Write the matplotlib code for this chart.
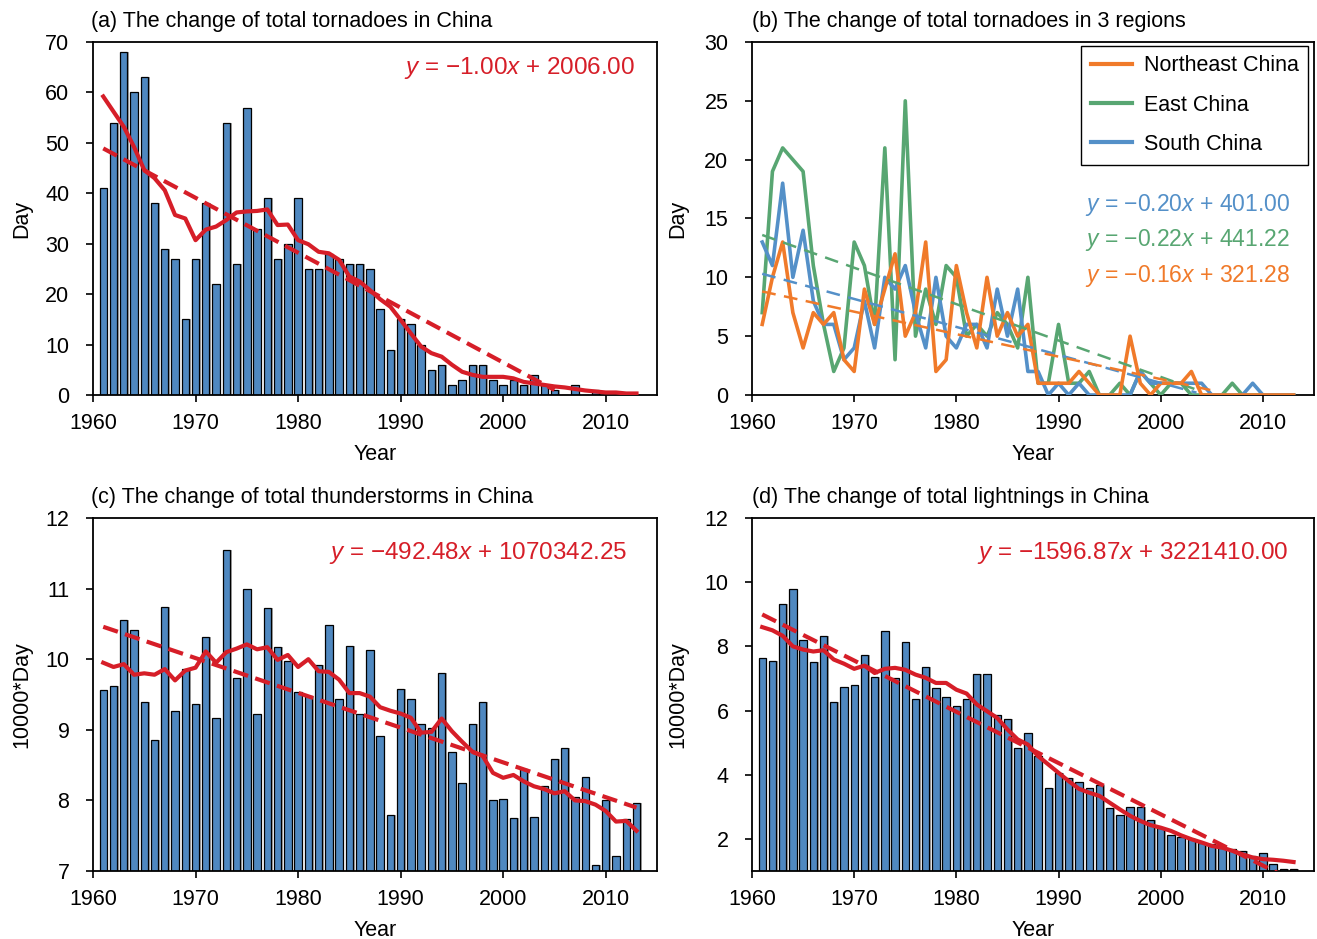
import numpy as np
import matplotlib
matplotlib.use("Agg")
import matplotlib.pyplot as plt

plt.rcParams['font.family'] = ['Liberation Sans', 'DejaVu Sans']
plt.rcParams['mathtext.fontset'] = 'custom'
plt.rcParams['mathtext.rm'] = 'Liberation Sans'
plt.rcParams['mathtext.it'] = 'Liberation Sans:italic'

# ---------------- datos ----------------
years = np.arange(1961, 2014)

# (a) tornados totales en China
tornado_total = [41, 54, 68, 60, 63, 38, 29, 27, 15, 27,
                 38, 22, 54, 26, 57, 33, 39, 27, 30, 39,
                 25, 25, 28, 27, 26, 26, 25, 17, 9, 15,
                 14, 10, 5, 6, 2, 3, 6, 6, 3, 2,
                 3, 2, 4, 2, 1, 0, 2, 0, 1, 0,
                 0, 0, 0]
tornado_smooth = [59.2, 56.2, 53.2, 49.2, 44.6, 43.0, 40.6, 35.7, 35.0, 30.7,
                  32.8, 33.4, 34.7, 36.2, 36.4, 36.5, 36.8, 33.7, 33.8, 30.7,
                  29.9, 28.4, 28.1, 26.8, 23.5, 22.5, 20.8, 19.0, 17.5, 14.9,
                  12.2, 9.6, 8.3, 7.6, 6.0, 4.6, 4.0, 3.6, 3.6, 3.6,
                  3.3, 2.6, 2.3, 2.0, 1.7, 1.5, 1.2, 0.9, 0.7, 0.5,
                  0.5, 0.3, 0.3]
trend_a_x = [1961, 2005]
trend_a_y = [48.9, 1.0]
eq_a = r'$y$ = −1.00$x$ + 2006.00'

# (b) tornados en 3 regiones
ne_china = [6, 10, 13, 7, 4, 7, 6, 7, 3, 2,
            9, 6, 9, 12, 5, 7, 13, 2, 3, 11,
            7, 4, 10, 5, 7, 5, 6, 1, 1, 1,
            1, 2, 1, 0, 0, 0, 5, 1, 0, 1,
            1, 1, 2, 0, 0, 0, 0, 0, 0, 0,
            0, 0, 0]
east_china = [7, 19, 21, 20, 19, 11, 6, 2, 4, 13,
              11, 6, 21, 3, 25, 5, 9, 6, 11, 10,
              5, 6, 5, 7, 6, 4, 10, 1, 1, 6,
              1, 1, 2, 0, 0, 1, 0, 2, 1, 0,
              1, 1, 0, 0, 0, 0, 1, 0, 0, 0,
              0, 0, 0]
south_china = [13, 11, 18, 10, 14, 8, 6, 6, 3, 4,
               8, 4, 10, 9, 11, 7, 4, 10, 5, 4,
               6, 6, 4, 9, 5, 9, 2, 2, 0, 1,
               0, 1, 0, 0, 0, 0, 0, 2, 1, 1,
               1, 1, 1, 1, 0, 0, 0, 0, 1, 0,
               0, 0, 0]
trend_ne = ([1961, 2005.5], [8.8, 0.3])
trend_east = ([1961, 2004], [13.6, 0.3])
trend_south = ([1961, 2003.5], [10.3, 0.2])
eq_south = r'$y$ = −0.20$x$ + 401.00'
eq_east = r'$y$ = −0.22$x$ + 441.22'
eq_ne = r'$y$ = −0.16$x$ + 321.28'

# (c) tormentas (10000*dia)
thunder_total = [9.57, 9.62, 10.56, 10.41, 9.40, 8.86, 10.74, 9.27, 9.86, 9.37,
                 10.32, 9.17, 11.55, 9.73, 11.00, 9.22, 10.73, 10.17, 9.98, 9.53,
                 9.48, 9.92, 10.49, 9.44, 10.18, 9.23, 10.13, 8.91, 7.79, 9.58,
                 9.44, 9.08, 9.03, 9.81, 8.69, 8.25, 9.08, 9.39, 8.01, 8.02,
                 7.75, 8.45, 7.77, 8.20, 8.59, 8.74, 8.05, 8.33, 7.08, 8.01,
                 7.21, 7.74, 7.96]
thunder_smooth = [9.95, 9.89, 9.93, 9.78, 9.80, 9.78, 9.86, 9.70, 9.84, 9.88,
                  10.11, 9.95, 10.10, 10.15, 10.21, 10.14, 10.17, 9.99, 10.06, 9.89,
                  10.00, 9.83, 9.82, 9.71, 9.52, 9.52, 9.47, 9.32, 9.27, 9.23,
                  9.17, 8.96, 8.97, 9.16, 8.98, 8.83, 8.69, 8.63, 8.39, 8.32,
                  8.36, 8.27, 8.20, 8.16, 8.10, 8.13, 8.00, 7.99, 7.94, 7.85,
                  7.70, 7.71, 7.57]
slope_c, icpt_c = -492.48, 1070342.25
eq_c = r'$y$ = −492.48$x$ + 1070342.25'

# (d) relampagos (10000*dia)
lightning_total = [7.64, 7.53, 9.31, 9.78, 8.20, 7.51, 8.33, 6.28, 6.74, 6.80,
                   7.74, 7.06, 8.48, 7.00, 8.13, 6.36, 7.37, 6.70, 6.41, 6.13,
                   6.36, 7.14, 7.14, 5.85, 5.75, 4.84, 5.31, 4.58, 3.59, 4.06,
                   3.91, 3.77, 3.59, 3.67, 2.97, 2.76, 3.00, 3.00, 2.60, 2.35,
                   2.11, 2.07, 1.99, 1.88, 1.83, 1.73, 1.68, 1.63, 1.47, 1.57,
                   1.23, 1.07, 1.07]
lightning_smooth = [8.60, 8.50, 8.33, 8.00, 7.90, 7.84, 7.88, 7.59, 7.46, 7.30,
                    7.40, 7.17, 7.30, 7.33, 7.27, 7.12, 7.02, 6.86, 6.86, 6.65,
                    6.53, 6.19, 5.98, 5.77, 5.41, 5.10, 4.94, 4.58, 4.32, 4.06,
                    3.80, 3.56, 3.44, 3.34, 3.13, 2.92, 2.72, 2.56, 2.43, 2.35,
                    2.25, 2.11, 1.99, 1.89, 1.78, 1.73, 1.63, 1.52, 1.42, 1.37,
                    1.35, 1.32, 1.28]
slope_d, icpt_d = -1596.87, 3221410.00
eq_d = r'$y$ = −1596.87$x$ + 3221410.00'

# ---------------- estilo ----------------
BAR = '#4f88c0'
RED = '#d61e28'
ORANGE = '#f07a2a'
GREEN = '#58a672'
BLUE = '#5490c8'
FS = 15.5


def estilo_ejes(ax, ylim, yticks, ylabel, titulo, xtit, xylab):
    ax.set_xlim(1960, 2015)
    ax.set_ylim(*ylim)
    ax.set_xticks(np.arange(1960, 2011, 10))
    ax.set_yticks(yticks)
    ax.tick_params(direction='out', length=5, width=1.2, labelsize=FS,
                   top=False, right=False)
    ax.tick_params(axis='x', pad=8)
    ax.tick_params(axis='y', pad=12)
    for s in ax.spines.values():
        s.set_linewidth(1.3)
    ax.set_xlabel('Year', fontsize=FS)
    ax.xaxis.set_label_coords(0.5, -0.138)
    ax.set_ylabel(ylabel, fontsize=FS)
    ax.yaxis.set_label_coords(xylab, 0.5)
    ax.text(xtit, 1.057, titulo, transform=ax.transAxes, fontsize=FS,
            ha='left', va='center')


def barras(ax, vals):
    ax.bar(years + 0.15, vals, width=0.72, color='#a8a8a8', zorder=1)
    ax.bar(years, vals, width=0.72, color=BAR, edgecolor='black',
           linewidth=0.9, zorder=2)


fig = plt.figure(figsize=(13.17, 9.39), dpi=100)
W, H = 1317, 939


def ejes(x0, x1, y0, y1):
    return fig.add_axes([x0 / W, 1 - y1 / H, (x1 - x0) / W, (y1 - y0) / H])


ax_a = ejes(93, 657, 42, 395)
ax_b = ejes(752, 1314, 42, 395)
ax_c = ejes(93, 657, 518, 871)
ax_d = ejes(752, 1314, 518, 871)

# (a)
barras(ax_a, tornado_total)
ax_a.plot(years, tornado_smooth, color=RED, lw=3, zorder=4)
ax_a.plot(trend_a_x, trend_a_y, color=RED, lw=3, dashes=(3.7, 1.8), zorder=3)
ax_a.text(0.961, 0.926, eq_a, transform=ax_a.transAxes, color=RED,
          fontsize=17.5, ha='right', va='center')
estilo_ejes(ax_a, (0, 70), np.arange(0, 71, 10), 'Day',
            '(a) The change of total tornadoes in China', -0.004, -0.108)

# (b)
ax_b.plot(years, east_china, color=GREEN, lw=2.6, zorder=3)
ax_b.plot(years, south_china, color=BLUE, lw=2.6, zorder=3)
ax_b.plot(years, ne_china, color=ORANGE, lw=2.6, zorder=4)
ax_b.plot(*trend_east, color=GREEN, lw=1.8, dashes=(5.5, 3.4), zorder=5)
ax_b.plot(*trend_south, color=BLUE, lw=1.8, dashes=(5.5, 3.4), zorder=5)
ax_b.plot(*trend_ne, color=ORANGE, lw=1.8, dashes=(5.5, 3.4), zorder=5)
hl = [plt.Line2D([], [], color=c, lw=3) for c in (ORANGE, GREEN, BLUE)]
leg = ax_b.legend(hl, ['Northeast China', 'East China', 'South China'],
                  loc='upper right', bbox_to_anchor=(0.99, 0.99),
                  borderaxespad=0, fontsize=FS, handlelength=1.9,
                  handletextpad=0.55, labelspacing=0.85, borderpad=0.45,
                  fancybox=False, framealpha=1, edgecolor='black')
leg.get_frame().set_linewidth(1.0)
for txt, col, yy in ((eq_south, BLUE, 0.538), (eq_east, GREEN, 0.439),
                     (eq_ne, ORANGE, 0.337)):
    ax_b.text(0.957, yy, txt, transform=ax_b.transAxes, color=col,
              fontsize=16.5, ha='right', va='center')
estilo_ejes(ax_b, (0, 30), np.arange(0, 31, 5), 'Day',
            '(b) The change of total tornadoes in 3 regions', 0.0, -0.113)

# (c)
barras(ax_c, thunder_total)
ax_c.plot(years, thunder_smooth, color=RED, lw=3, zorder=4)
ax_c.plot(years, (slope_c * years + icpt_c) / 10000, color=RED, lw=3,
          dashes=(3.7, 1.8), zorder=3)
ax_c.text(0.947, 0.901, eq_c, transform=ax_c.transAxes, color=RED,
          fontsize=17.5, ha='right', va='center')
estilo_ejes(ax_c, (7, 12), np.arange(7, 13, 1), '10000*Day',
            '(c) The change of total thunderstorms in China', -0.004, -0.108)

# (d)
barras(ax_d, lightning_total)
ax_d.plot(years, lightning_smooth, color=RED, lw=3, zorder=4)
ax_d.plot(years, (slope_d * years + icpt_d) / 10000, color=RED, lw=3,
          dashes=(3.7, 1.8), zorder=3)
ax_d.text(0.955, 0.901, eq_d, transform=ax_d.transAxes, color=RED,
          fontsize=17.5, ha='right', va='center')
estilo_ejes(ax_d, (1, 12), np.arange(2, 13, 2), '10000*Day',
            '(d) The change of total lightnings in China', 0.0, -0.113)

fig.savefig('out.png', dpi=100)
